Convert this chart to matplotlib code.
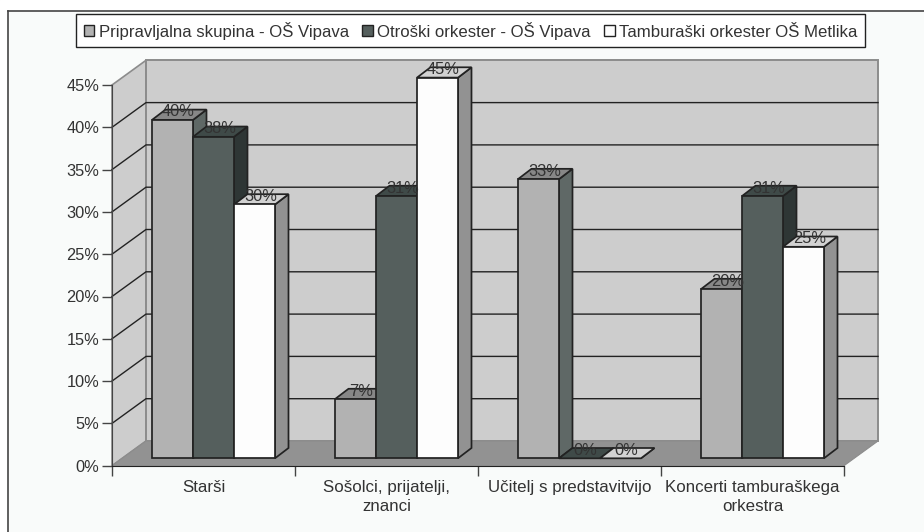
import matplotlib
matplotlib.use('Agg')
import matplotlib.pyplot as plt
from matplotlib.patches import Patch, Polygon
from matplotlib.ticker import PercentFormatter

categories = ['Starši', 'Sošolci, prijatelji,\nznanci', 'Učitelj s predstavitvijo', 'Koncerti tamburaškega\norkestra']
series_names = ['Pripravljalna skupina - OŠ Vipava', 'Otroški orkester - OŠ Vipava', 'Tamburaški orkester OŠ Metlika']
pripravljalna = [40, 7, 33, 20]
otroski = [38, 31, 0, 31]
tamburaski = [30, 45, 0, 25]
y_ticks = [0, 5, 10, 15, 20, 25, 30, 35, 40, 45]

W, H = 924, 532
x0, x1 = 112, 844
y0, y45 = 465.7, 85
PX = (x1 - x0) / 4        # pixels per category
PY = (y0 - y45) / 45      # pixels per percent
TEXT = '#333333'
LINE = '#222222'

fig = plt.figure(figsize=(W / 100, H / 100), dpi=100, facecolor='#F9FBFA')
ax = fig.add_axes([x0 / W, 1 - y0 / H, (x1 - x0) / W, (y0 - y45) / H])
ax.set_xlim(0, 4)
ax.set_ylim(0, 45)
ax.patch.set_visible(False)


def off(x, y, dx=0, dy=0):
    # oblique projection, dx and dy in pixels
    return (x + dx / PX, y + dy / PY)


def face(pts, color, edge=LINE, lw=1.25, z=2):
    ax.add_patch(Polygon(pts, closed=True, facecolor=color, edgecolor=edge, lw=lw, clip_on=False, zorder=z, joinstyle='miter'))


# page band and frame
fig.add_artist(plt.Rectangle((0, 1 - 11 / H), 1, 11 / H, color='white', transform=fig.transFigure, zorder=-5))
fig.add_artist(plt.Rectangle((0, 0), 8 / W, 1, color='white', transform=fig.transFigure, zorder=-5))
fig.add_artist(plt.Line2D([8 / W, 1], [1 - 11 / H] * 2, color='#444444', lw=1.2))
fig.add_artist(plt.Line2D([8 / W] * 2, [0, 1 - 11 / H], color='#444444', lw=1.2))

# walls and floor
DX, DY = 34, 24.7
gray_edge = '#8C8C8C'
face([off(0, 0), off(0, 45), off(0, 45, DX, DY), off(0, 0, DX, DY)], '#CDCDCD', gray_edge, 1.2, 0)
face([off(0, 0, DX, DY), off(0, 45, DX, DY), off(4, 45, DX, DY), off(4, 0, DX, DY)], '#CDCDCD', gray_edge, 1.4, 0)
face([off(0, 0), off(4, 0), off(4, 0, DX, DY), off(0, 0, DX, DY)], '#929292', '#8C8C8C', 0.8, 1)
for t in y_ticks[1:-1]:
    ax.plot(*zip(off(0, t), off(0, t, DX, DY), off(4, t, DX, DY)), color=LINE, lw=1.0, clip_on=False, zorder=1.5)

# bars
BX, BY = 10, 7.4        # front plane of the bars
bar_w = 41
dep_x, dep_y = 13.5, 10.3
series = [pripravljalna, otroski, tamburaski]
front = ['#B2B2B2', '#555F5D', '#FDFDFD']
top = ['#878787', '#3F4A48', '#D2D2D2']
side = ['#5F6866', '#2E3635', '#929292']

for i in range(len(categories)):
    for s, vals in enumerate(series):
        v = vals[i]
        left = i + 0.5 + (s - 1.5) * bar_w / PX
        right = left + bar_w / PX
        z = 3 + s + i * 5
        face([off(right, 0, BX, BY), off(right, v, BX, BY), off(right, v, BX + dep_x, BY + dep_y), off(right, 0, BX + dep_x, BY + dep_y)], side[s], z=z)
        face([off(left, v, BX, BY), off(right, v, BX, BY), off(right, v, BX + dep_x, BY + dep_y), off(left, v, BX + dep_x, BY + dep_y)], top[s], z=z)
        if v > 0:
            face([off(left, 0, BX, BY), off(right, 0, BX, BY), off(right, v, BX, BY), off(left, v, BX, BY)], front[s], z=z)
        tx, ty = off((left + right) / 2, v, BX + 6, BY + 8)
        ax.text(tx, ty, f'{v}%', ha='center', va='center', fontsize=11.8, color='#333333', family='Liberation Sans', clip_on=False, zorder=60)

# axes
for name in ['top', 'right']:
    ax.spines[name].set_visible(False)
ax.spines['left'].set_color('#444444')
ax.spines['bottom'].set_color(LINE)
ax.spines['bottom'].set_zorder(50)
ax.spines['left'].set_zorder(50)
ax.set_yticks(y_ticks)
ax.yaxis.set_major_formatter(PercentFormatter(decimals=0))
ax.set_xticks(range(5))
ax.set_xticklabels([])
ax.set_xticks([i + 0.5 for i in range(4)], minor=True)
ax.set_xticklabels(categories, minor=True, linespacing=1.35)
ax.tick_params(axis='x', which='major', length=7, color='#444444', width=1)
ax.tick_params(axis='x', which='minor', length=0, pad=10.5, labelsize=12.2, labelcolor=TEXT)
ax.tick_params(axis='y', length=7, color='#444444', width=1, labelsize=11.8, labelcolor=TEXT, pad=2)
for lab in ax.get_xticklabels(minor=True) + ax.get_yticklabels():
    lab.set_family('Liberation Sans')

# legend
handles = [Patch(facecolor=c, edgecolor=LINE, lw=1.0) for c in front]
fig.legend(handles, series_names, ncol=3, loc='center', bbox_to_anchor=(470.5 / W, 1 - 30.7 / H),
           prop={'family': 'Liberation Sans', 'size': 12.1}, labelcolor=TEXT, frameon=True, fancybox=False,
           edgecolor=LINE, facecolor='white', framealpha=1, handlelength=0.63, handleheight=0.63,
           handletextpad=0.26, columnspacing=0.8, borderpad=0.44, borderaxespad=0)

fig.savefig('out.png', dpi=100, facecolor=fig.get_facecolor())
